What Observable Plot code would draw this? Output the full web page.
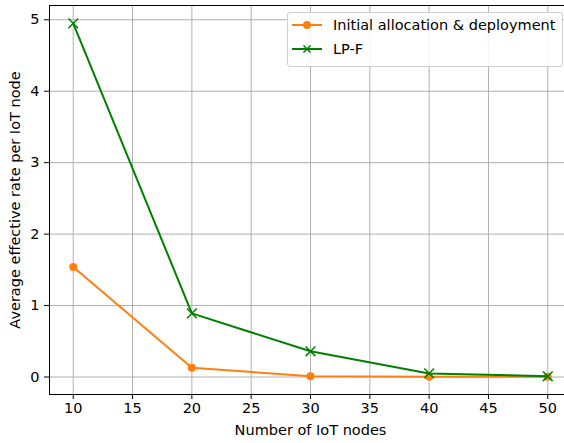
<!DOCTYPE html>
<html>
<head>
<meta charset="utf-8">
<script src="https://cdn.jsdelivr.net/npm/d3@7"></script>
<script src="https://cdn.jsdelivr.net/npm/@observablehq/plot@0.6"></script>
<style>
  html, body { margin: 0; padding: 0; background: #fff; overflow: hidden; }
  #wrap { position: relative; width: 564px; height: 443px; overflow: hidden; font-family: "DejaVu Sans", sans-serif; }
  #chart svg { max-width: none !important; }
  #legend { position: absolute; left: 287px; top: 12px; width: 276px; height: 55px; background: rgba(255,255,255,0.85); border: 1px solid #d0d0d0; border-radius: 3px; box-sizing: border-box; }
  .row { position: absolute; left: 0; height: 22px; display: flex; align-items: center; font-size: 14.5px; color: #000; white-space: nowrap; }
  .row svg { margin-left: 4px; margin-right: 11px; }
</style>
</head>
<body>
<div id="wrap"><div id="chart"></div><div id="legend"></div></div>
<script>
const nodes = [10, 20, 30, 40, 50];
const initialAlloc = [1.54, 0.13, 0.01, 0.005, 0.002];
const lpf = [4.95, 0.89, 0.36, 0.05, 0.01];
const xTicks = [10, 15, 20, 25, 30, 35, 40, 45, 50];
const yTicks = [0, 1, 2, 3, 4, 5];
const seriesNames = ["Initial allocation & deployment", "LP-F"];
const colors = ["#ff7f0e", "#008000"];

const dataA = nodes.map((n, i) => ({x: n, y: initialAlloc[i]}));
const dataB = nodes.map((n, i) => ({x: n, y: lpf[i]}));

const chart = Plot.plot({
  width: 572,
  height: 443,
  marginLeft: 49,
  marginRight: 1,
  marginTop: 5,
  marginBottom: 49,
  style: {fontFamily: "DejaVu Sans, sans-serif", fontSize: "14.5px", color: "#000", background: "#fff", overflow: "visible", maxWidth: "none"},
  x: {domain: [8, 52], label: null},
  y: {domain: [-0.245, 5.2], label: null},
  marks: [
    Plot.gridX(xTicks, {stroke: "#b0b0b0", strokeOpacity: 1, strokeWidth: 1}),
    Plot.gridY(yTicks, {stroke: "#b0b0b0", strokeOpacity: 1, strokeWidth: 1}),
    Plot.axisX(xTicks, {tickSize: 5, tickPadding: 3, fontSize: 14.5, label: null, stroke: "#000"}),
    Plot.axisY(yTicks, {tickSize: 5, tickPadding: 5, fontSize: 14.5, label: null, stroke: "#000", tickFormat: d => String(d)}),
    Plot.frame({stroke: "#000", strokeWidth: 1}),
    Plot.line(dataA, {x: "x", y: "y", stroke: colors[0], strokeWidth: 2}),
    Plot.dot(dataA, {x: "x", y: "y", fill: colors[0], r: 4, symbol: "circle"}),
    Plot.line(dataB, {x: "x", y: "y", stroke: colors[1], strokeWidth: 2}),
    Plot.dot(dataB, {x: "x", y: "y", stroke: colors[1], strokeWidth: 1.5, r: 4.5, symbol: "times"}),
    Plot.text(["Number of IoT nodes"], {frameAnchor: "bottom", dy: 36, lineAnchor: "middle", fontSize: 14.5, fill: "#000"}),
    Plot.text(["Average effective rate per IoT node"], {frameAnchor: "left", dx: -34, rotate: -90, lineAnchor: "middle", textAnchor: "middle", fontSize: 14.5, fill: "#000"})
  ]
});
document.getElementById("chart").appendChild(chart);

const legend = document.getElementById("legend");
const markers = [
  '<circle cx="15" cy="6" r="4" fill="' + colors[0] + '"/>',
  '<path d="M11.5,2.5L18.5,9.5M18.5,2.5L11.5,9.5" stroke="' + colors[1] + '" stroke-width="1.5"/>'
];
seriesNames.forEach((name, i) => {
  const row = document.createElement("div");
  row.className = "row";
  row.style.top = (i === 0 ? 1 : 25) + "px";
  row.innerHTML = '<svg width="30" height="12"><line x1="0" y1="6" x2="30" y2="6" stroke="' + colors[i] + '" stroke-width="2"/>' + markers[i] + '</svg>';
  const span = document.createElement("span");
  span.textContent = name;
  row.appendChild(span);
  legend.appendChild(row);
});
</script>
</body>
</html>
